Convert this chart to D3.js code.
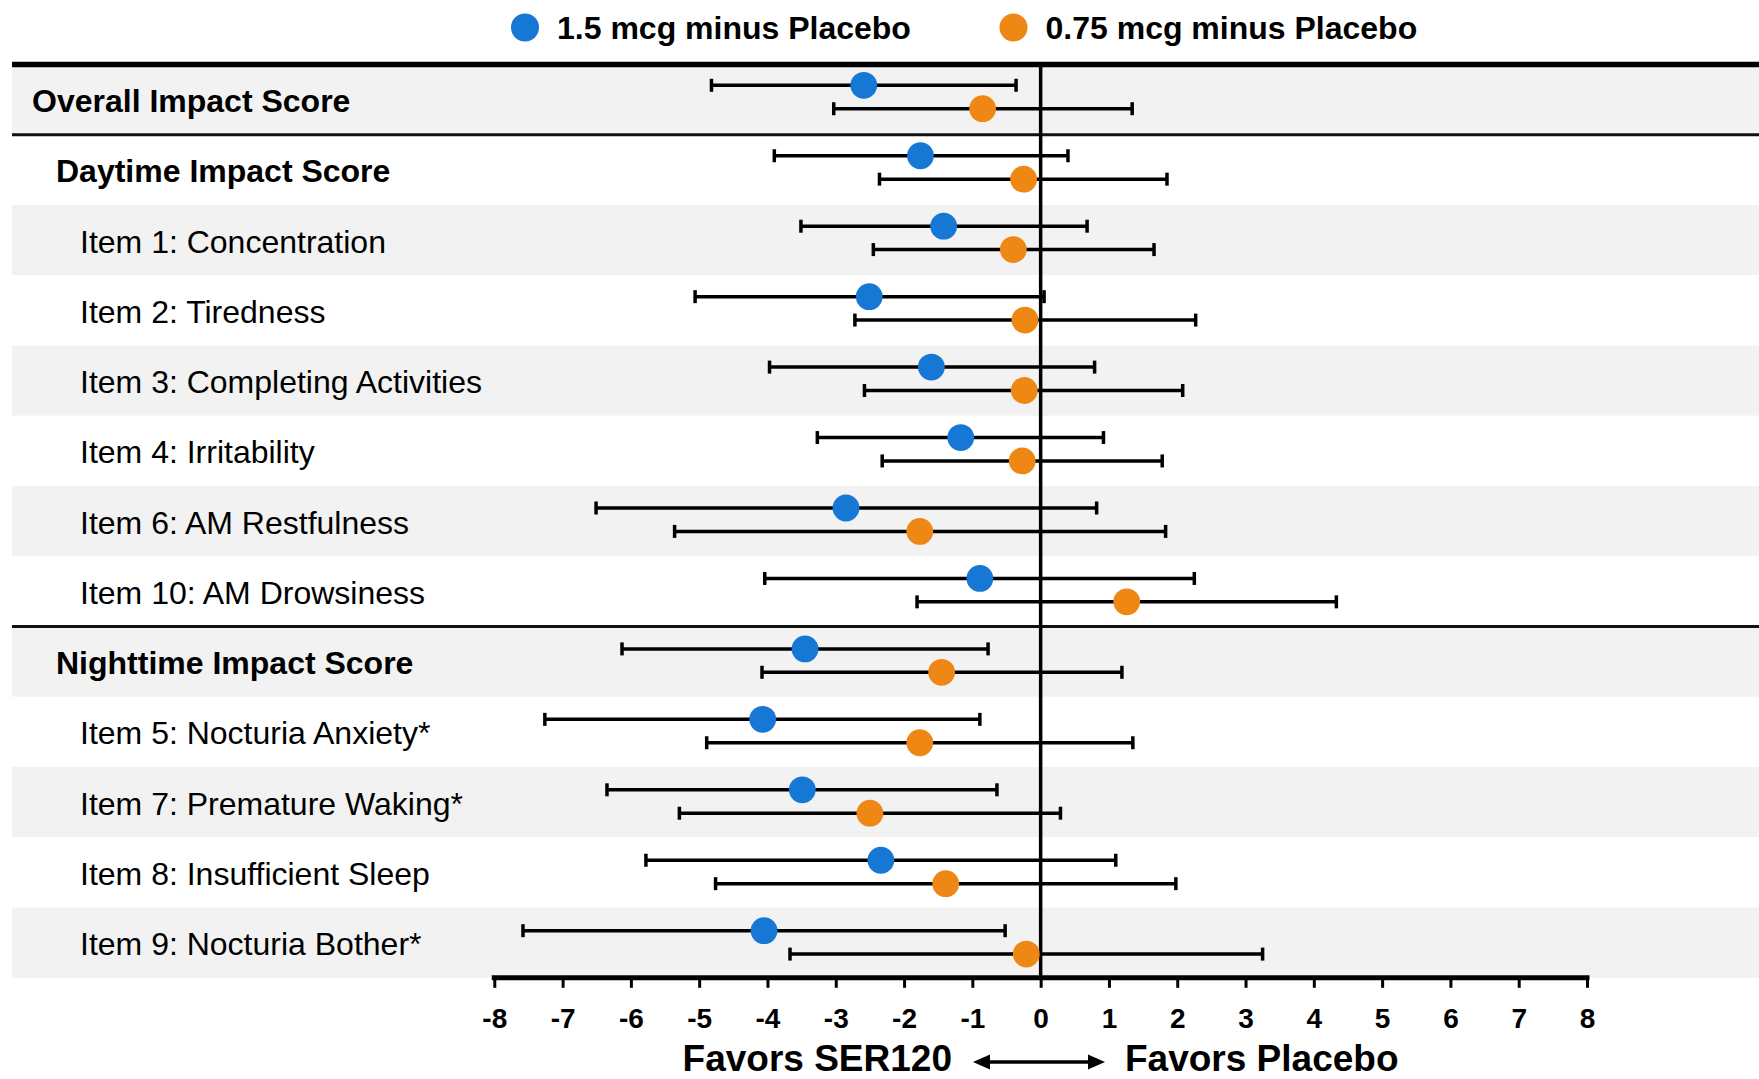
<!DOCTYPE html>
<html>
<head>
<meta charset="utf-8">
<script src="https://cdn.jsdelivr.net/npm/d3@7"></script>
<style>
  html, body { margin: 0; padding: 0; background: #ffffff; }
  svg { display: block; font-family: Arial, "Liberation Sans", sans-serif; }
</style>
</head>
<body>
<svg id="chart" width="1759" height="1079"></svg>
<script>
// Outcome rows, top to bottom
const categories = [
  "Overall Impact Score",
  "Daytime Impact Score",
  "Item 1: Concentration",
  "Item 2: Tiredness",
  "Item 3: Completing Activities",
  "Item 4: Irritability",
  "Item 6: AM Restfulness",
  "Item 10: AM Drowsiness",
  "Nighttime Impact Score",
  "Item 5: Nocturia Anxiety*",
  "Item 7: Premature Waking*",
  "Item 8: Insufficient Sleep",
  "Item 9: Nocturia Bother*"
];
// 0 = overall score, 1 = domain score, 2 = single item
const rowLevel = [0, 1, 2, 2, 2, 2, 2, 2, 1, 2, 2, 2, 2];

const seriesNames = ["1.5 mcg minus Placebo", "0.75 mcg minus Placebo"];
const seriesColors = ["#1677d4", "#ef8715"];

// 1.5 mcg minus placebo: estimate and 95% CI
const highEst = [-2.59, -1.76, -1.42, -2.51, -1.60, -1.17, -2.85, -0.89, -3.45, -4.07, -3.49, -2.34, -4.05];
const highLo  = [-4.82, -3.90, -3.51, -5.06, -3.97, -3.27, -6.51, -4.04, -6.13, -7.26, -6.35, -5.78, -7.58];
const highHi  = [-0.36,  0.40,  0.68,  0.05,  0.79,  0.92,  0.82,  2.25, -0.77, -0.89, -0.64,  1.10, -0.52];

// 0.75 mcg minus placebo: estimate and 95% CI
const lowEst = [-0.85, -0.25, -0.40, -0.23, -0.24, -0.27, -1.77, 1.26, -1.45, -1.77, -2.50, -1.39, -0.21];
const lowLo  = [-3.03, -2.36, -2.45, -2.72, -2.58, -2.32, -5.36, -1.81, -4.08, -4.89, -5.29, -4.76, -3.67];
const lowHi  = [ 1.34,  1.85,  1.66,  2.27,  2.08,  1.78,  1.83, 4.33,  1.19,  1.35,  0.29,  1.98,  3.25];

const xTicks = [-8, -7, -6, -5, -4, -3, -2, -1, 0, 1, 2, 3, 4, 5, 6, 7, 8];

const svg = d3.select("#chart");
const W = 1759;
const tableLeft = 12;
const plotTop = 64.5, plotBottom = 977.8;

const x = d3.scaleLinear().domain([-8, 8]).range([494.3, 1587]);
// table rows
const y = d3.scaleBand().domain(categories).range([plotTop, plotBottom]).padding(0);
const bh = y.bandwidth();
// marker slots inside each row
const yMark = d3.scaleBand().domain(categories).range([plotTop + 0.3, plotTop + 0.3 + 13 * 70.45]).padding(0);

// zebra row bands
svg.append("g").selectAll("rect")
  .data(categories)
  .join("rect")
  .attr("x", tableLeft)
  .attr("y", d => y(d))
  .attr("width", W - tableLeft)
  .attr("height", bh)
  .attr("fill", (d, i) => i % 2 === 0 ? "#f2f2f2" : "#ffffff");

// row labels
const labelX = [32, 56, 80];
svg.append("g").selectAll("text")
  .data(categories)
  .join("text")
  .attr("x", (d, i) => labelX[rowLevel[i]])
  .attr("y", d => y(d) + bh / 2 + 12.5)
  .attr("font-size", 32)
  .attr("font-weight", (d, i) => rowLevel[i] < 2 ? "bold" : "normal")
  .attr("fill", "#000")
  .text(d => d);

// section separators
const sepAfter = [categories[1], categories[8]];
svg.append("g").selectAll("line")
  .data(sepAfter)
  .join("line")
  .attr("x1", tableLeft).attr("x2", W)
  .attr("y1", d => y(d)).attr("y2", d => y(d))
  .attr("stroke", "#111").attr("stroke-width", 3);

// heavy header rule
svg.append("line")
  .attr("x1", tableLeft).attr("x2", W)
  .attr("y1", plotTop).attr("y2", plotTop)
  .attr("stroke", "#000").attr("stroke-width", 5.5);

// no-difference reference line
svg.append("line")
  .attr("x1", x(0)).attr("x2", x(0))
  .attr("y1", plotTop).attr("y2", plotBottom)
  .attr("stroke", "#000").attr("stroke-width", 3.5);

// series rows
const series = [
  { est: highEst, lo: highLo, hi: highHi, color: seriesColors[0], off: 20.5 },
  { est: lowEst,  lo: lowLo,  hi: lowHi,  color: seriesColors[1], off: 43.9 }
];
const capHalf = 6.5;

series.forEach(s => {
  const rows = categories.map((c, i) => ({
    c, est: s.est[i], lo: s.lo[i], hi: s.hi[i], yy: yMark(c) + s.off
  }));
  const g = svg.append("g");
  g.selectAll("line.ci").data(rows).join("line")
    .attr("class", "ci")
    .attr("x1", d => x(d.lo)).attr("x2", d => x(d.hi))
    .attr("y1", d => d.yy).attr("y2", d => d.yy)
    .attr("stroke", "#000").attr("stroke-width", 3.5);
  g.selectAll("line.capl").data(rows).join("line")
    .attr("class", "capl")
    .attr("x1", d => x(d.lo)).attr("x2", d => x(d.lo))
    .attr("y1", d => d.yy - capHalf).attr("y2", d => d.yy + capHalf)
    .attr("stroke", "#000").attr("stroke-width", 3.5);
  g.selectAll("line.caph").data(rows).join("line")
    .attr("class", "caph")
    .attr("x1", d => x(d.hi)).attr("x2", d => x(d.hi))
    .attr("y1", d => d.yy - capHalf).attr("y2", d => d.yy + capHalf)
    .attr("stroke", "#000").attr("stroke-width", 3.5);
  g.selectAll("circle").data(rows).join("circle")
    .attr("cx", d => x(d.est)).attr("cy", d => d.yy)
    .attr("r", 13.4)
    .attr("fill", s.color);
});

// x axis
const axis = d3.axisBottom(x)
  .tickValues(xTicks)
  .tickFormat(d => String(d))
  .tickSize(10)
  .tickSizeOuter(0)
  .tickPadding(20);
const axG = svg.append("g")
  .attr("transform", `translate(0,${plotBottom})`)
  .call(axis);
axG.select(".domain")
  .attr("stroke", "#000").attr("stroke-width", 5)
  .attr("stroke-linecap", "square")
  .attr("d", `M${x(-8)},0H${x(8)}`);
axG.selectAll(".tick line").attr("stroke", "#000").attr("stroke-width", 3);
axG.selectAll(".tick text")
  .attr("font-family", "Arial, 'Liberation Sans', sans-serif")
  .attr("font-size", 28)
  .attr("font-weight", "bold")
  .attr("fill", "#000");

// direction caption
const capY = 1071;
svg.append("text")
  .attr("x", 952).attr("y", capY)
  .attr("text-anchor", "end")
  .attr("font-size", 37).attr("font-weight", "bold")
  .text("Favors SER120");
svg.append("text")
  .attr("x", 1125).attr("y", capY)
  .attr("text-anchor", "start")
  .attr("font-size", 37).attr("font-weight", "bold")
  .text("Favors Placebo");
const ay = 1062, ax0 = 973, ax1 = 1105, headL = 17, headH = 7.5;
svg.append("line")
  .attr("x1", ax0 + headL - 2).attr("x2", ax1 - headL + 2)
  .attr("y1", ay).attr("y2", ay)
  .attr("stroke", "#000").attr("stroke-width", 3.5);
svg.append("path")
  .attr("d", `M${ax0},${ay}L${ax0 + headL},${ay - headH}L${ax0 + headL},${ay + headH}Z`)
  .attr("fill", "#000");
svg.append("path")
  .attr("d", `M${ax1},${ay}L${ax1 - headL},${ay - headH}L${ax1 - headL},${ay + headH}Z`)
  .attr("fill", "#000");

// legend
const legendX = [525, 1013.5];
const lg = svg.append("g").selectAll("g")
  .data(seriesNames)
  .join("g")
  .attr("transform", (d, i) => `translate(${legendX[i]},27.5)`);
lg.append("circle").attr("r", 14).attr("fill", (d, i) => seriesColors[i]);
lg.append("text")
  .attr("x", 32).attr("y", 11.5)
  .attr("font-size", 32).attr("font-weight", "bold")
  .text(d => d);
</script>
</body>
</html>
